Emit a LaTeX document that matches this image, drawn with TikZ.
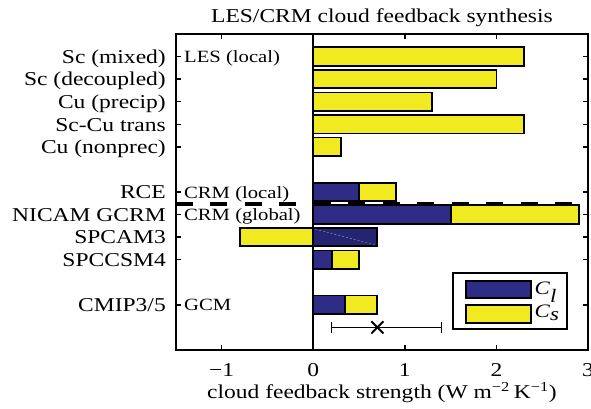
\documentclass[tikz,border=0pt]{standalone}
\usepackage{fontspec}
\usepackage{graphicx}
\setmainfont{Liberation Serif}
\newcommand\sx[1]{\scalebox{1.2}[1]{#1}}
\definecolor{barblue}{RGB}{46,44,134}
\definecolor{bardark}{RGB}{36,36,112}
\definecolor{baryel}{RGB}{242,234,32}
\begin{document}
\begin{tikzpicture}[x=91.56pt,y=-22.57pt,
  lab/.style={font=\fontsize{19.6}{22}\selectfont, inner sep=0pt},
  inlab/.style={font=\fontsize{17.2}{19}\selectfont, inner sep=0pt},
  barcl/.style={draw=black, line width=1.8pt, fill=barblue},
  barcs/.style={draw=black, line width=1.8pt, fill=baryel},
  axline/.style={line width=2.2pt},
  tck/.style={line width=1.5pt}]
\useasboundingbox (-3.4218,-1.5064) rectangle (3.0330,16.571);
% dashed separator (behind bars)
\draw[line width=4pt, dash pattern=on 17pt off 17.5pt] (-1.5,7.53) -- (3,7.53);
% LES bars
\path[barcs] (0,0.59) rectangle (2.3,1.41);
\path[barcs] (0,1.59) rectangle (2.0,2.41);
\path[barcs] (0,2.59) rectangle (1.3,3.41);
\path[barcs] (0,3.59) rectangle (2.3,4.41);
\path[barcs] (0,4.59) rectangle (0.3,5.41);
% RCE
\path[barcl] (0,6.59) rectangle (0.5,7.41);
\path[barcs] (0.5,6.59) rectangle (0.9,7.41);
% NICAM
\path[barcl] (0,7.59) rectangle (1.5,8.41);
\path[barcs] (1.5,7.59) rectangle (2.9,8.41);
% SPCAM3
\path[barcs] (0,8.59) rectangle (-0.8,9.41);
\path[barcl, fill=bardark] (0,8.59) rectangle (0.7,9.41);
\draw[line width=0.6pt, color=barblue!60!white, dash pattern=on 2pt off 2pt] (0.02,8.64) -- (0.68,9.36);
% SPCCSM4
\path[barcl] (0,9.59) rectangle (0.2,10.41);
\path[barcs] (0.2,9.59) rectangle (0.5,10.41);
% CMIP
\path[barcl] (0,11.59) rectangle (0.35,12.41);
\path[barcs] (0.35,11.59) rectangle (0.7,12.41);
% error bar
\coordinate (elo) at (0.2,13);
\coordinate (ehi) at (1.4,13);
\coordinate (emid) at (0.7,13);
\draw[line width=1.6pt] (elo) -- (ehi);
\draw[line width=1.6pt] (elo) ++(0,-0.24) -- ++(0,0.48);
\draw[line width=1.6pt] (ehi) ++(0,-0.24) -- ++(0,0.48);
\draw[line width=1.9pt] (emid) ++(-0.066,-0.27) -- ++(0.132,0.54);
\draw[line width=1.9pt] (emid) ++(-0.066,0.27) -- ++(0.132,-0.54);
% zero line
\draw[line width=1.8pt] (0,0) -- (0,14);
% ticks
\foreach \k in {1,2,3,4,5,7,8,9,10,12} {
  \draw[tck] (-1.5,\k) -- ++(0.055,0);
  \draw[tck] (3,\k) -- ++(-0.055,0);
}
\foreach \v in {-1,1,2} {
  \draw[tck] (\v,0) -- ++(0,0.22);
  \draw[tck] (\v,14) -- ++(0,-0.22);
}
% axes box
\draw[axline] (-1.5,0) rectangle (3,14);
% y labels
\node[lab, anchor=base east] (l1) at (-1.609,1.3) {\sx{Sc (mixed)}};
\node[lab, anchor=base east] (l2) at (-1.609,2.3) {\sx{Sc (decoupled)}};
\node[lab, anchor=base east] (l3) at (-1.609,3.3) {\sx{Cu (precip)}};
\node[lab, anchor=base east] (l4) at (-1.609,4.3) {\sx{Sc-Cu trans}};
\node[lab, anchor=base east] (l5) at (-1.609,5.3) {\sx{Cu (nonprec)}};
\node[lab, anchor=base east] (l7) at (-1.609,7.3) {\sx{RCE}};
\node[lab, anchor=base east] (l8) at (-1.609,8.3) {\sx{NICAM GCRM}};
\node[lab, anchor=base east] (l9) at (-1.609,9.3) {\sx{SPCAM3}};
\node[lab, anchor=base east] (l10) at (-1.609,10.3) {\sx{SPCCSM4}};
\node[lab, anchor=base east] (l12) at (-1.609,12.3) {\sx{CMIP3/5}};
% group labels
\node[inlab, anchor=base west] (g1) at (-1.412,1.27) {\sx{LES (local)}};
\node[inlab, anchor=base west] (g2) at (-1.412,7.27) {\sx{CRM (local)}};
\node[inlab, anchor=base west] (g3) at (-1.412,8.27) {\sx{CRM (global)}};
\node[inlab, anchor=base west] (g4) at (-1.412,12.27) {\sx{GCM}};
% x tick labels
\foreach \v/\t in {-1/−1,0/0,1/1,2/2,3/3} {
  \node[lab, anchor=base] (xt\v) at (\v,15.18) {\sx{\t}};
}
\node[lab, anchor=base] (xlab) at (0.75,16.17) {\sx{cloud feedback strength (W m\textsuperscript{−2}\,K\textsuperscript{−1})}};
\node[lab, anchor=base] (title) at (0.75,-0.518) {\sx{LES/CRM cloud feedback synthesis}};
% legend
\draw[line width=1.8pt] (1.526,10.59) rectangle (2.771,13.07);
\path[barcl] (1.664,10.94) rectangle (2.374,11.71);
\path[barcs] (1.664,12.01) rectangle (2.374,12.79);
\node[font=\fontsize{19}{21}\selectfont, inner sep=0pt, anchor=base west] (lgl) at (2.415,11.56) {\sx{\textit{C}$_{\textit{l}}$}};
\node[font=\fontsize{19}{21}\selectfont, inner sep=0pt, anchor=base west] (lgs) at (2.415,12.55) {\sx{\textit{C}$_{\textit{s}}$}};
\end{tikzpicture}
\end{document}
